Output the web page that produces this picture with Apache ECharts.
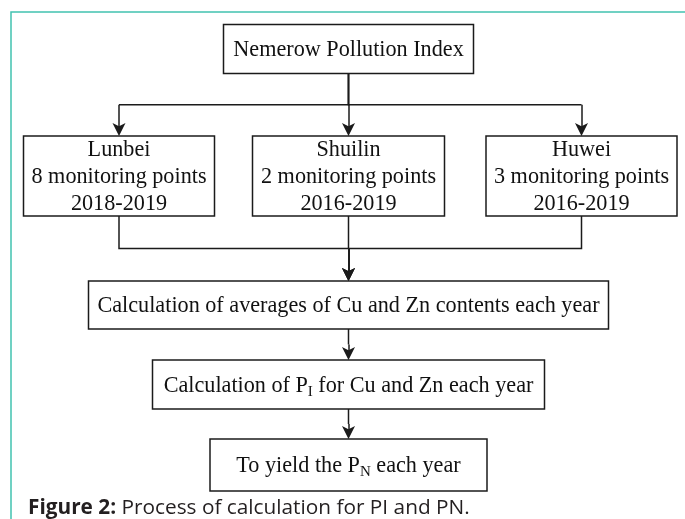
<!DOCTYPE html>
<html>
<head>
<meta charset="utf-8">
<script src="https://cdn.jsdelivr.net/npm/echarts@6/dist/echarts.min.js"></script>
<style>
html, body { margin: 0; padding: 0; background: #fff; }
#main { width: 685px; height: 519px; }
</style>
</head>
<body>
<div id="main"></div>
<script>
// steps of the flowchart ({sub|..} is a subscript)
var steps = [
    'Nemerow Pollution Index',
    'Lunbei\n8 monitoring points\n2018-2019',
    'Shuilin\n2 monitoring points\n2016-2019',
    'Huwei\n3 monitoring points\n2016-2019',
    'Calculation of averages of Cu and Zn contents each year',
    'Calculation of P{sub|I} for Cu and Zn each year',
    'To yield the P{sub|N} each year'
];
// arrows between steps: [from, to]
var links = [[0, 1], [0, 2], [0, 3], [1, 4], [2, 4], [3, 4], [4, 5], [5, 6]];

// box centres and sizes, in pixels of the page
var boxX = [348.5, 119, 348.5, 581.5, 348.5, 348.5, 348.5];
var boxY = [49, 176, 176, 176, 305, 384.5, 465];
var boxW = [250, 191, 192, 191, 520, 392, 277];
var boxH = [49, 80, 80, 80, 48, 49, 52];

var caption = '{b|Figure 2:} Process of calculation for PI and PN.';

var ink = '#1b1b1b';
var arrowSize = 13;

var myChart = echarts.init(document.getElementById('main'));

var boxes = steps.map(function (s, i) {
    return [boxX[i], boxY[i], boxW[i], boxH[i], i];
});

// elbow part of each link, then the vertical arrow into the target box
var elbows = [];
var arrows = [];
links.forEach(function (l) {
    var f = l[0], t = l[1];
    var y0 = boxY[f] + boxH[f] / 2;
    var y1 = boxY[t] - boxH[t] / 2;
    var mid = (y0 + y1) / 2;
    elbows.push({ coords: [[boxX[f], y0], [boxX[f], mid], [boxX[t], mid]] });
    arrows.push({ coords: [[boxX[t], mid], [boxX[t], y1 - arrowSize / 2]] });
});

var option = {
    animation: false,
    grid: { left: 0, right: 0, top: 0, bottom: 0 },
    xAxis: { type: 'value', min: 0, max: 685, show: false },
    yAxis: { type: 'value', min: 0, max: 519, inverse: true, show: false },
    graphic: [
        {
            type: 'rect',
            shape: { x: 11, y: 12, width: 720, height: 560 },
            style: { fill: 'none', stroke: '#41c2b0', lineWidth: 1.5 },
            z: 0
        },
        {
            type: 'text',
            left: 28,
            top: 498,
            style: {
                text: caption,
                fill: '#231f20',
                font: '20.8px "Open Sans"',
                rich: {
                    b: { fontWeight: 'bold', fontSize: 20.8, fontFamily: 'Open Sans', fill: '#231f20' }
                }
            }
        }
    ],
    series: [
        {
            type: 'lines',
            coordinateSystem: 'cartesian2d',
            polyline: true,
            lineStyle: { color: ink, width: 1.5, opacity: 1 },
            data: elbows
        },
        {
            type: 'lines',
            coordinateSystem: 'cartesian2d',
            symbol: ['none', 'path://M5,0 L10,14 L5,10.5 L0,14 Z'],
            symbolSize: arrowSize,
            lineStyle: { color: ink, width: 1.5, opacity: 1 },
            itemStyle: { color: ink },
            data: arrows
        },
        {
            type: 'custom',
            coordinateSystem: 'cartesian2d',
            data: boxes,
            renderItem: function (params, api) {
                var i = api.value(4);
                var p = api.coord([api.value(0), api.value(1)]);
                var s = api.size([api.value(2), api.value(3)]);
                return {
                    type: 'group',
                    children: [
                        {
                            type: 'rect',
                            shape: { x: p[0] - s[0] / 2, y: p[1] - s[1] / 2, width: s[0], height: s[1] },
                            style: { fill: '#fff', stroke: ink, lineWidth: 1.5 }
                        },
                        {
                            type: 'text',
                            x: p[0],
                            y: p[1] + 1.5,
                            style: {
                                text: steps[i],
                                fill: '#111',
                                fontSize: 22.2,
                                fontFamily: 'Liberation Serif',
                                lineHeight: 27,
                                align: 'center',
                                verticalAlign: 'middle',
                                rich: {
                                    sub: {
                                        fontSize: 15,
                                        fontFamily: 'Liberation Serif',
                                        fill: '#111',
                                        lineHeight: 12,
                                        verticalAlign: 'bottom'
                                    }
                                }
                            }
                        }
                    ]
                };
            }
        }
    ]
};

myChart.setOption(option);
</script>
</body>
</html>
